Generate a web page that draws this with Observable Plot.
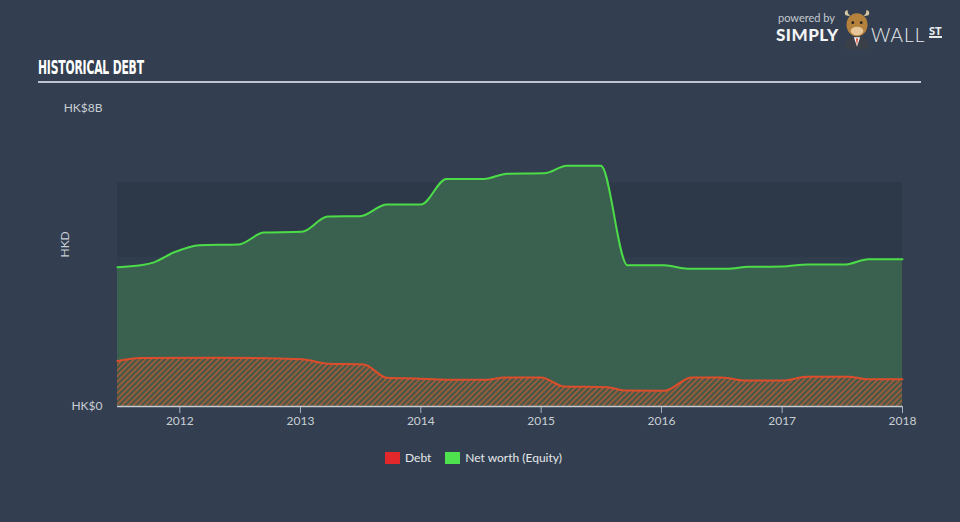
<!DOCTYPE html>
<html>
<head>
<meta charset="utf-8">
<script src="https://cdn.jsdelivr.net/npm/d3@7"></script>
<script src="https://cdn.jsdelivr.net/npm/@observablehq/plot@0.6"></script>
<style>
  html, body { margin: 0; padding: 0; }
  body { width: 960px; height: 522px; background: #333f50; position: relative; overflow: hidden; font-family: Lato, "Open Sans", sans-serif; }
  #chart { position: absolute; left: 0; top: 0; }
  .title { position: absolute; left: 38px; top: 55px; color: #ffffff; font-family: "Liberation Sans Narrow", "DejaVu Sans Condensed", sans-serif; font-weight: bold; font-size: 20px; letter-spacing: -0.3px; transform: scaleX(0.6); transform-origin: left top; white-space: nowrap; }
  .rule { position: absolute; left: 38px; top: 81px; width: 883px; height: 2px; background: #bfc5cc; }
  .legend { position: absolute; top: 450px; left: 385px; font-size: 12px; color: #e4e7ea; white-space: nowrap; }
  .legend span.sw { display: inline-block; width: 15px; height: 12px; vertical-align: -2px; margin-right: 5px; }
  .legend span.item { margin-right: 14px; }
  .logo { position: absolute; left: 776px; top: 8px; width: 180px; height: 42px; }
  .logo .pb { position: absolute; left: 2px; top: 3px; font-size: 11px; color: #c5cad0; }
  .logo .simply { position: absolute; left: 0px; top: 16px; font-size: 17px; font-weight: 900; color: #f2f4f6; letter-spacing: 0.5px; font-family: Lato, sans-serif; }
  .logo .wall { position: absolute; left: 95px; top: 15px; font-size: 19px; font-weight: 300; color: #e8ebee; letter-spacing: 1px; font-family: Lato, sans-serif; }
  .logo .st { position: absolute; left: 153px; top: 17px; font-size: 11px; font-weight: 900; color: #e8ebee; border-bottom: 2px solid #e8ebee; line-height: 11px; font-family: Lato, sans-serif; }
</style>
</head>
<body>
<div id="chart"></div>
<div class="title">HISTORICAL DEBT</div>
<div class="rule"></div>
<div class="logo">
  <div class="pb">powered by</div>
  <div class="simply">SIMPLY</div>
  <svg style="position:absolute;left:65px;top:1px" width="32" height="42" viewBox="0 0 30 40">
    <path d="M4 6 Q2 2 6 1 Q6 5 9 7 Z" fill="#d8c8a0"/>
    <path d="M26 6 Q28 2 24 1 Q24 5 21 7 Z" fill="#d8c8a0"/>
    <path d="M3 38 Q4 26 15 26 Q26 26 27 38 Z" fill="#3a3f48"/>
    <path d="M12 27 L15 36 L18 27 Z" fill="#f2f2f2"/>
    <path d="M14 28 L15 35 L16 28 Z" fill="#d9432b"/>
    <ellipse cx="15" cy="15" rx="10" ry="11" fill="#b5823e"/>
    <ellipse cx="15" cy="21" rx="6" ry="4" fill="#e7c79a"/>
    <circle cx="11" cy="13" r="1.3" fill="#222"/>
    <circle cx="19" cy="13" r="1.3" fill="#222"/>
  </svg>
  <div class="wall">WALL</div>
  <div class="st">ST</div>
</div>
<div class="legend"><span class="item"><span class="sw" style="background:#e3282b"></span>Debt</span><span class="item"><span class="sw" style="background:#4fe24f"></span>Net worth (Equity)</span></div>
<script>
// ---- data (values in HKD) ----
const netDates = ["2011-06-26","2011-09-05","2011-10-15","2011-12-15","2012-03-01","2012-06-28","2012-09-12","2013-01-05","2013-03-25","2013-07-01","2013-09-20","2014-01-01","2014-03-20","2014-07-12","2014-09-20","2015-01-10","2015-03-20","2015-07-01","2015-09-20","2016-01-10","2016-03-20","2016-07-20","2016-09-20","2017-01-01","2017-03-20","2017-07-08","2017-09-20","2018-01-01"];
const netValues = [3.74e9,3.79e9,3.87e9,4.14e9,4.33e9,4.35e9,4.67e9,4.69e9,5.10e9,5.11e9,5.42e9,5.42e9,6.11e9,6.11e9,6.25e9,6.26e9,6.46e9,6.46e9,3.79e9,3.79e9,3.70e9,3.70e9,3.75e9,3.76e9,3.81e9,3.81e9,3.95e9,3.95e9];
const debtDates = ["2011-06-26","2011-09-05","2012-04-20","2013-01-05","2013-03-25","2013-07-12","2013-09-20","2013-12-15","2014-03-20","2014-07-24","2014-09-12","2015-01-01","2015-03-10","2015-07-20","2015-09-10","2016-01-10","2016-04-01","2016-07-01","2016-09-10","2017-01-10","2017-03-15","2017-07-20","2017-09-20","2018-01-01"];
const debtValues = [1.22e9,1.30e9,1.31e9,1.27e9,1.15e9,1.13e9,0.77e9,0.75e9,0.72e9,0.72e9,0.78e9,0.78e9,0.54e9,0.52e9,0.43e9,0.42e9,0.78e9,0.78e9,0.70e9,0.70e9,0.80e9,0.80e9,0.73e9,0.73e9];
const xTickLabels = ["2012","2013","2014","2015","2016","2017","2018"];
const yTickValues = [0, 8e9];
const yTickLabels = ["HK$0", "HK$8B"];
const yAxisTitle = ["HKD"];
const bandEdges = [0, 4e9, 6e9];

const net = netDates.map((d, i) => ({date: new Date(d), value: netValues[i]}));
const debt = debtDates.map((d, i) => ({date: new Date(d), value: debtValues[i]}));
const xStart = new Date("2011-06-26");
const xEnd = new Date("2018-01-01");
const bands = [{y1: bandEdges[0], y2: bandEdges[1], fill: "#303d4d"}, {y1: bandEdges[1], y2: bandEdges[2], fill: "#2d3949"}];

const chart = Plot.plot({
  width: 960,
  height: 522,
  marginLeft: 117,
  marginRight: 58,
  marginTop: 108,
  marginBottom: 116,
  style: {background: "transparent", color: "#c9ced4", fontFamily: "Lato, 'Open Sans', sans-serif", fontSize: "12px"},
  x: {type: "utc", domain: [xStart, xEnd]},
  y: {domain: [0, 8e9]},
  marks: [
    Plot.rect(bands, {x1: () => xStart, x2: () => xEnd, y1: "y1", y2: "y2", fill: "fill"}),
    Plot.areaY(net, {x: "date", y: "value", fill: "#3a6150", curve: "monotone-x"}),
    Plot.areaY(debt, {x: "date", y: "value", fill: "url(#hatch)", curve: "monotone-x"}),
    Plot.lineY(net, {x: "date", y: "value", stroke: "#4cdc48", strokeWidth: 2, curve: "monotone-x"}),
    Plot.lineY(debt, {x: "date", y: "value", stroke: "#dc4d2c", strokeWidth: 2, curve: "monotone-x"}),
    Plot.axisX({ticks: xTickLabels.map(y => new Date(y + "-01-01")), tickFormat: "%Y", tickSize: 7, tickPadding: 3, stroke: "#aab2bc", label: null}),
    Plot.ruleY([0], {stroke: "#c3cad2", strokeWidth: 1.5}),
    Plot.axisY({ticks: yTickValues, tickFormat: d => yTickLabels[yTickValues.indexOf(d)], tickSize: 0, tickPadding: 15, label: null}),
    Plot.text(yAxisTitle, {frameAnchor: "left", dx: -52, rotate: -90, fill: "#c9ced4", fontSize: 12})
  ]
});

const svg = d3.select(chart);
const defs = svg.insert("defs", ":first-child");
const pat = defs.append("pattern").attr("id", "hatch").attr("width", 4).attr("height", 4)
  .attr("patternUnits", "userSpaceOnUse").attr("patternTransform", "rotate(45)");
pat.append("rect").attr("width", 4).attr("height", 4).attr("fill", "#435846");
pat.append("rect").attr("width", 1.7).attr("height", 4).attr("fill", "#a65c3c");

document.getElementById("chart").appendChild(chart);
</script>
</body>
</html>
